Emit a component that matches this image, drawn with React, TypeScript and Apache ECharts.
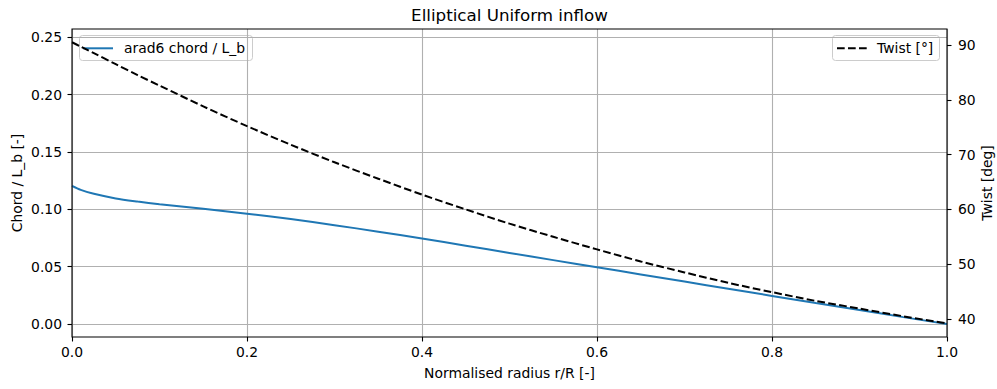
import React, { useEffect, useRef } from "react";
import * as echarts from "echarts";

const radius = [0, 0.01, 0.025, 0.05, 0.075, 0.1, 0.15, 0.2, 0.25, 0.3, 0.35, 0.4, 0.45, 0.5, 0.55, 0.6, 0.65, 0.7, 0.75, 0.8, 0.85, 0.9, 0.95, 1.0];
const chord = [0.1205, 0.117, 0.1135, 0.1095, 0.1068, 0.1045, 0.1005, 0.0962, 0.0915, 0.0862, 0.0805, 0.0745, 0.0683, 0.062, 0.0557, 0.0495, 0.0432, 0.037, 0.0307, 0.0245, 0.0183, 0.0122, 0.006, 0.0];
const twist = [90.5, 89.7, 88.5, 86.5, 84.5, 82.6, 78.8, 75.2, 71.8, 68.6, 65.6, 62.7, 60.0, 57.4, 55.0, 52.7, 50.5, 48.5, 46.6, 44.9, 43.3, 41.9, 40.5, 39.2];
const xTicks = { min: 0, max: 1, interval: 0.2 };
const chordTicks = { min: 0, max: 0.25, interval: 0.05 };
const twistTicks = { min: 40, max: 90, interval: 10 };
const chordName = "arad6 chord / L_b";
const twistName = "Twist [°]";

const FONT = "DejaVu Sans";
const FS = 13.9;
const W = 997;
const H = 389;
const L = 72, R = 50, T = 29, B = 52;
const BLUE = "#1f77b4";
const DASH = [7.7, 3.3];
const LW = 2;

export default function App() {
  const ref = useRef<HTMLDivElement>(null);
  useEffect(() => {
    if (!ref.current) return;
    const chart = echarts.init(ref.current, null, { renderer: "svg" });
    const chordData = radius.map((r, i) => [r, chord[i]]);
    const twistData = radius.map((r, i) => [r, twist[i]]);
    const labelStyle = { fontFamily: FONT, fontSize: FS, color: "#000" };
    const tick = { show: true, inside: false, length: 4.5, lineStyle: { color: "#000", width: 1.1 } };
    const noLine = { show: false, onZero: false };
    const gridLine = { show: true, lineStyle: { color: "#b0b0b0", width: 1.1 } };
    chart.setOption({
      animation: false,
      backgroundColor: "#fff",
      textStyle: { fontFamily: FONT },
      grid: [
        { left: L, right: R, top: T, bottom: B, show: true, borderColor: "#000", borderWidth: 1.1, backgroundColor: "transparent", z: 5 },
        { left: L, right: R, top: 37.3, bottom: H - 324 },
        { left: L, right: R, top: 45, bottom: H - 319 },
      ],
      xAxis: [
        {
          gridIndex: 0, type: "value", min: xTicks.min, max: xTicks.max, interval: xTicks.interval,
          axisLine: noLine,
          axisTick: tick,
          axisLabel: { ...labelStyle, margin: 8, formatter: (v: number) => v.toFixed(1) },
          splitLine: gridLine,
        },
        { gridIndex: 1, type: "value", min: 0, max: 1, show: false, axisLine: noLine },
        { gridIndex: 2, type: "value", min: 0, max: 1, show: false, axisLine: noLine },
      ],
      yAxis: [
        { gridIndex: 0, type: "value", min: -0.0116, max: 0.2572, show: false, axisLine: noLine },
        {
          gridIndex: 1, type: "value", position: "left", min: chordTicks.min, max: chordTicks.max, interval: chordTicks.interval,
          axisLine: noLine,
          axisTick: tick,
          axisLabel: { ...labelStyle, margin: 10, formatter: (v: number) => v.toFixed(2) },
          splitLine: gridLine,
        },
        {
          gridIndex: 2, type: "value", position: "right", min: twistTicks.min, max: twistTicks.max, interval: twistTicks.interval,
          axisLine: noLine,
          axisTick: tick,
          axisLabel: { ...labelStyle, margin: 11, formatter: (v: number) => String(v) },
          splitLine: { show: false },
        },
      ],
      series: [
        {
          name: chordName, type: "line", xAxisIndex: 1, yAxisIndex: 1,
          data: chordData, smooth: 0.3, symbol: "none", clip: false,
          lineStyle: { color: BLUE, width: LW }, itemStyle: { color: BLUE }, z: 3,
        },
        {
          name: twistName, type: "line", xAxisIndex: 2, yAxisIndex: 2,
          data: twistData, smooth: 0.3, symbol: "none", clip: false,
          lineStyle: { color: "#000", width: LW, type: DASH }, itemStyle: { color: "#000" }, z: 4,
        },
      ],
      graphic: [
        {
          type: "text", x: (L + (W - R)) / 2, y: 14.5,
          style: { text: "Elliptical Uniform inflow", fontFamily: FONT, fontSize: 16.7, fill: "#000", align: "center", verticalAlign: "middle" },
        },
        {
          type: "text", x: (L + (W - R)) / 2, y: 373,
          style: { text: "Normalised radius r/R [-]", fontFamily: FONT, fontSize: FS, fill: "#000", align: "center", verticalAlign: "middle" },
        },
        {
          type: "text", x: 17, y: 183, rotation: Math.PI / 2,
          style: { text: "Chord / L_b [-]", fontFamily: FONT, fontSize: FS, fill: "#000", align: "center", verticalAlign: "middle" },
        },
        {
          type: "text", x: 987, y: 183, rotation: Math.PI / 2,
          style: { text: "Twist [deg]", fontFamily: FONT, fontSize: FS, fill: "#000", align: "center", verticalAlign: "middle" },
        },
        {
          type: "group", z: 100, children: [
            { type: "rect", shape: { x: 79.5, y: 35.5, width: 173, height: 25, r: 3 }, style: { fill: "rgba(255,255,255,0.8)", stroke: "#cccccc", lineWidth: 1 } },
            { type: "line", shape: { x1: 83, y1: 48.3, x2: 113, y2: 48.3 }, style: { stroke: BLUE, lineWidth: LW } },
            { type: "text", x: 124, y: 48.3, style: { text: chordName, fontFamily: FONT, fontSize: FS, fill: "#000", align: "left", verticalAlign: "middle" } },
          ],
        },
        {
          type: "group", z: 100, children: [
            { type: "rect", shape: { x: 832.5, y: 35.5, width: 107, height: 25, r: 3 }, style: { fill: "rgba(255,255,255,0.8)", stroke: "#cccccc", lineWidth: 1 } },
            { type: "line", shape: { x1: 837, y1: 48.3, x2: 867, y2: 48.3 }, style: { stroke: "#000", lineWidth: LW, lineDash: DASH } },
            { type: "text", x: 877, y: 48.3, style: { text: twistName, fontFamily: FONT, fontSize: FS, fill: "#000", align: "left", verticalAlign: "middle" } },
          ],
        },
      ],
    });
    return () => chart.dispose();
  }, []);
  return <div ref={ref} style={{ width: W, height: H, position: "absolute", left: 0, top: 0 }} />;
}
